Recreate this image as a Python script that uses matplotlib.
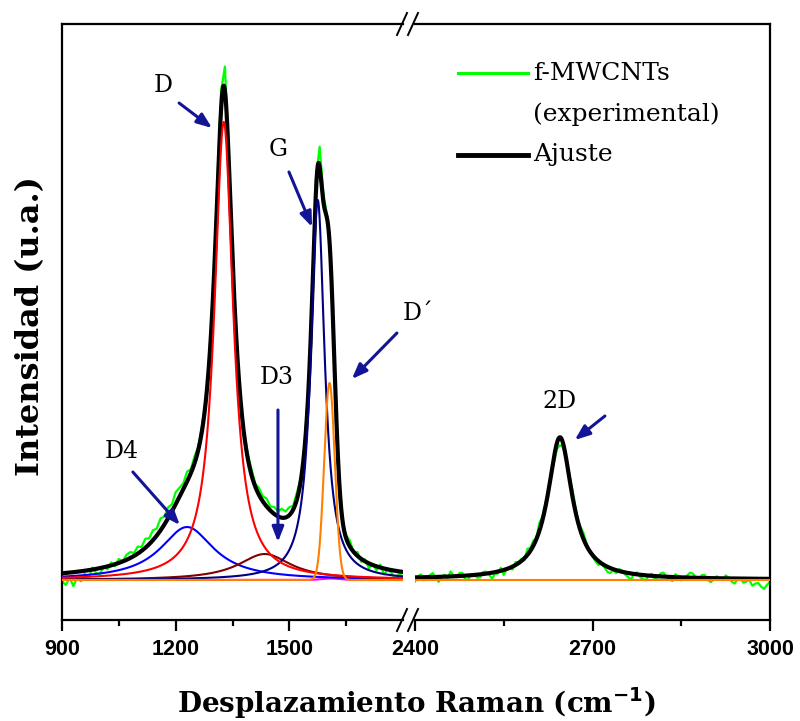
import numpy as np
import matplotlib
matplotlib.use('Agg')
import matplotlib.pyplot as plt
from matplotlib.lines import Line2D

# ---------------- data ----------------
# fitted bands: centre (cm-1), height (a.u.), half width (HWHM for Lorentz, sigma for Gauss)
band_labels = ['D4', 'D', 'D3', 'G', 'D´', 'Dx', '2D']
band_centers = [1230, 1327, 1435, 1575, 1606, 1610, 2645]
band_heights = [53, 458, 26, 380, 197, 1.5, 142]
band_widths = [86, 30, 85, 22, 14, 25, 25]
band_shapes = ['L', 'L', 'L', 'L', 'G', 'G', 'L']
band_colors = ['#0000ff', '#ff0000', '#800000', '#000080', '#ff8000', '#ff00ff', '#000000']

# experimental spectrum: deviation from the fit
exp_left_x = np.arange(900, 1801, 10)
exp_left_dev = [-8, -12, -5, -14, -6, -10, -3, -9, 2, -4,
                -6, 1, -3, 3, -2, 4, 0, 5, 6, 3,
                7, 4, 9, 6, 10, 7, 12, 8, 11, 7,
                12, 9, 6, 10, 4, 7, 3, 5, 2, 4,
                6, 10, 18, 24, 6, 2, -2, 3, 1, 4,
                6, 3, 7, 5, 8, 4, 7, 5, 9, 6,
                8, 4, 7, 3, 5, 2, 4, 14, 20, 8,
                3, 6, 4, 2, -2, 3, 6, -1, 4, -3,
                2, -5, 1, -4, 3, -6, 0, -3, -8, -2, -5]
exp_right_x = np.arange(2400, 3001, 5)
exp_right_dev = [-4, 1, 3, -3, -2, 2, 4, -1, -5, 0,
                 2, -2, 5, 1, -1, 3, 3, -4, -4, 1,
                 1, -3, -3, 2, 2, -1, -6, -2, -2, 3,
                 -5, 0, 0, -3, 3, 1, 2, -2, 6, 3,
                 5, 1, 8, 4, 4, 0, -2, -5, -6, -8,
                 -4, -2, 3, 6, 5, 2, 4, 6, 2, -1,
                 -1, -3, -4, 0, -2, -5, -5, -1, -3, 2,
                 1, -2, -4, -6, 0, 2, -2, -4, -5, 0,
                 2, -3, -1, 3, 4, 0, -2, -4, 3, 1,
                 -3, 0, 2, 5, 4, 0, -1, 3, 3, -2,
                 -4, -1, 2, 0, -2, 3, 1, -3, -5, -1,
                 0, -4, -3, -1, -7, -5, -4, -8, -10, -6, -3]

left_major = [900, 1200, 1500]
left_minor = [1050, 1350, 1650]
right_major = [2400, 2700, 3000]
right_minor = [2550, 2850]


def band(x, i):
    c, h, w = band_centers[i], band_heights[i], band_widths[i]
    if band_shapes[i] == 'L':
        return h / (1 + ((x - c) / w) ** 2)
    return h * np.exp(-0.5 * ((x - c) / w) ** 2)


def total(x):
    return sum(band(x, i) for i in range(len(band_centers)))


# ---------------- figure ----------------
W, H = 800, 721
fig = plt.figure(figsize=(8, 7.21), dpi=100)


def fx(px):
    return px / W


def fy(py):
    return 1 - py / H


ax1 = fig.add_axes([fx(62), fy(620), fx(403) - fx(62), fy(24) - fy(620)])
ax2 = fig.add_axes([fx(415), fy(620), fx(770) - fx(415), fy(24) - fy(620)])
ax1.patch.set_visible(False)
ax2.patch.set_visible(False)

xl = np.linspace(900, 1800, 1801)
xr = np.linspace(2400, 3000, 1201)

for ax, xx, ex, ed in [(ax1, xl, exp_left_x, exp_left_dev), (ax2, xr, exp_right_x, exp_right_dev)]:
    ax.plot(ex, total(ex) + np.array(ed), color='#00ff00', lw=1.6, zorder=2)
    ax.plot(xx, total(xx), color='black', lw=3.0, zorder=3)

order = [5, 0, 2, 3, 1, 4]
for i in order:
    ax1.plot(xl, band(xl, i), color=band_colors[i], lw=1.5, zorder=4)
ax2.plot(xr, band(xr, 4), color=band_colors[4], lw=1.5, zorder=4)

ax1.set_xlim(900, 1800)
ax2.set_xlim(2400, 3000)
for ax in (ax1, ax2):
    ax.set_ylim(-40, 556)
    ax.set_yticks([])
    for s in ax.spines.values():
        s.set_linewidth(1.6)
ax1.spines['right'].set_visible(False)
ax2.spines['left'].set_visible(False)

ax1.set_xticks(left_major)
ax1.set_xticks(left_minor, minor=True)
ax2.set_xticks(right_major)
ax2.set_xticks(right_minor, minor=True)
for ax in (ax1, ax2):
    ax.tick_params(axis='x', which='major', direction='out', length=8, width=1.6, pad=6)
    ax.tick_params(axis='x', which='minor', direction='out', length=4.5, width=1.6)
    for lab in ax.get_xticklabels():
        lab.set_fontfamily('Liberation Sans')
        lab.set_fontweight('bold')
        lab.set_fontsize(15.5)

# axis labels
fig.text(fx(416), fy(703), r'Desplazamiento Raman (cm$^{\mathbf{-1}}$)', ha='center', va='center',
         family='DejaVu Serif', weight='bold', fontsize=20)
fig.text(fx(31), fy(326), 'Intensidad (u.a.)', ha='center', va='center', rotation=90,
         family='DejaVu Serif', weight='bold', fontsize=23)

# break marks
for yb in (24, 620):
    for x0 in (397, 408):
        fig.add_artist(Line2D([fx(x0), fx(x0 + 10)], [fy(yb + 11), fy(yb - 11)],
                              transform=fig.transFigure, color='black', lw=1.4))

# legend
fig.add_artist(Line2D([fx(458), fx(528)], [fy(73), fy(73)], transform=fig.transFigure,
                      color='#00ff00', lw=2.2))
fig.add_artist(Line2D([fx(458), fx(528)], [fy(155), fy(155)], transform=fig.transFigure,
                      color='black', lw=3.5))
for txt, yy in [('f-MWCNTs', 73), ('(experimental)', 114), ('Ajuste', 155)]:
    fig.text(fx(533), fy(yy), txt, ha='left', va='center', family='DejaVu Serif', fontsize=18)

# band annotations (text position, arrow tail, arrow tip) in data coordinates
navy = '#141496'
aprops = dict(arrowstyle='-|>,head_length=0.9,head_width=0.35', color=navy, lw=2.2,
              shrinkA=0, shrinkB=0)
annots = [
    (ax1, 'D', (1166, 495), (1209, 477), (1296, 452)),
    (ax1, 'G', (1470, 430), (1499, 408), (1560, 353)),
    (ax1, 'D3', (1467, 202), (1470, 170), (1470, 38)),
    (ax1, 'D´', (1839, 267), (1784, 247), (1665, 201)),
    (ax1, 'D4', (1058, 128), (1087, 108), (1211, 55)),
    (ax2, '2D', (2645, 178), (2721, 164), (2670, 140)),
]
for ax, lab, tpos, tail, tip in annots:
    ax.text(tpos[0], tpos[1], lab, ha='center', va='center', family='DejaVu Serif',
            fontsize=17, clip_on=False, zorder=6)
    ax.annotate('', xy=tip, xytext=tail, arrowprops=aprops, annotation_clip=False, zorder=6)

fig.savefig('out.png', dpi=100)
